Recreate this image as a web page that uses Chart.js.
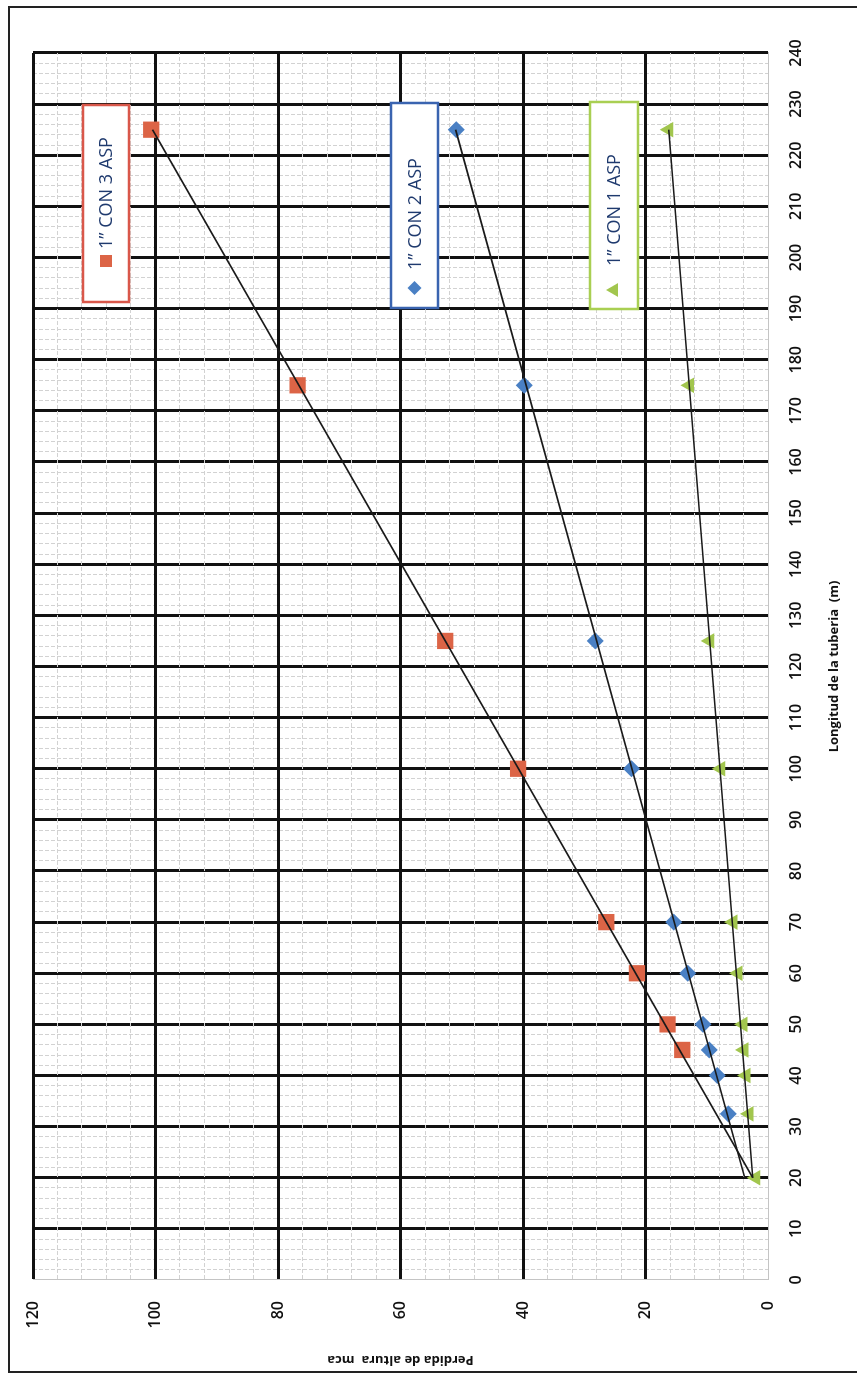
<!DOCTYPE html>
<html lang="es">
<head>
  <meta charset="UTF-8" />
  <title>Perdida de altura vs longitud de la tuberia</title>
  <style>
    html, body { margin: 0; padding: 0; background: #fff; overflow: hidden; }
    #frame {
      position: absolute; left: 8px; top: 6px; width: 860px; height: 1367px;
      border: 2px solid #222; border-right: none; box-sizing: border-box;
    }
    /* the chart is drawn lying down and turned a quarter to the left */
    #turn {
      position: absolute; left: 0; top: 0; width: 1376px; height: 857px;
      transform-origin: 0 0; transform: translateY(1376px) rotate(-90deg);
    }
  </style>
</head>
<body>
  <div id="frame"></div>
  <div id="turn"><canvas id="lossChart" width="1376" height="857"></canvas></div>

  <script src="https://cdn.jsdelivr.net/npm/chart.js"></script>
  <script>
    // longitud (m) / perdida (mca)
    const lenRed = [45, 50, 60, 70, 100, 125, 175, 225];
    const lossRed = [14.0, 16.4, 21.4, 26.4, 40.8, 52.7, 76.8, 100.7];
    const lenBlue = [32.5, 40, 45, 50, 60, 70, 100, 125, 175, 225];
    const lossBlue = [6.5, 8.3, 9.6, 10.6, 13.1, 15.4, 22.3, 28.2, 39.8, 50.9];
    const lenGreen = [20, 32.5, 40, 45, 50, 60, 70, 100, 125, 175, 225];
    const lossGreen = [2.0, 3.1, 3.6, 3.9, 4.1, 4.9, 5.7, 7.7, 9.5, 12.8, 16.2];

    // trend lines (end points)
    const trendLen = [20, 225];
    const trendRed = [2.5, 100.5];
    const trendBlue = [3.8, 51.0];
    const trendGreen = [2.5, 16.2];

    const seriesNames = ['1\u201D CON 3 ASP', '1\u201D CON 2 ASP', '1\u201D CON 1 ASP'];
    const lenTicks = 10;   // labelled every 10 m
    const lossTicks = 20;  // labelled every 20 mca

    function toPoints(xs, ys) {
      return xs.map((x, i) => ({ x: x, y: ys[i] }));
    }

    function gridStyle(step) {
      const val = c => (c.tick ? Math.round(c.tick.value) : 0);
      const major = c => { const v = val(c); return v !== 0 && v % step === 0; };
      return {
        grid: {
          drawTicks: false,
          color: c => (major(c) ? '#111' : '#d2d2d2'),
          lineWidth: c => (major(c) ? 3 : 1)
        },
        border: {
          color: '#c4c4c4',
          width: 1,
          dash: c => (c.tick && major(c) ? [] : [4, 2])
        }
      };
    }

    const legendBoxes = {
      id: 'legendBoxes',
      afterDraw(chart, args, opts) {
        const ctx = chart.ctx;
        opts.items.forEach(it => {
          const ds = chart.data.datasets[it.dataset];
          const cy = it.y + it.h / 2;
          ctx.save();
          ctx.fillStyle = '#fff';
          ctx.fillRect(it.x, it.y, it.w, it.h);
          ctx.lineWidth = 2.5;
          ctx.strokeStyle = it.border;
          ctx.strokeRect(it.x, it.y, it.w, it.h);
          ctx.fillStyle = ds.backgroundColor;
          Chart.helpers.drawPoint(ctx, { pointStyle: ds.pointStyle, radius: it.r, borderWidth: 0, rotation: 0 }, it.mx, cy);
          ctx.fillStyle = '#1f3a6e';
          ctx.font = '500 18px "Open Sans"';
          ctx.textBaseline = 'middle';
          ctx.fillText(ds.label, it.tx, cy + 1);
          ctx.restore();
        });
      }
    };

    const lenGrid = gridStyle(lenTicks);
    const lossGrid = gridStyle(lossTicks);
    const tickFont = { family: 'Open Sans', size: 16, weight: '600' };
    const titleFont = { family: 'Open Sans', size: 13, weight: 'bold' };

    new Chart(document.getElementById('lossChart'), {
      type: 'scatter',
      data: {
        datasets: [
          { label: seriesNames[0], data: toPoints(lenRed, lossRed), pointStyle: 'rect', pointRadius: 11.5, pointHoverRadius: 11.5, backgroundColor: '#dc6446', borderWidth: 0, order: 1 },
          { label: seriesNames[1], data: toPoints(lenBlue, lossBlue), pointStyle: 'rectRot', pointRadius: 8.5, pointHoverRadius: 8.5, backgroundColor: '#4a80c4', borderWidth: 0, order: 1 },
          { label: seriesNames[2], data: toPoints(lenGreen, lossGreen), pointStyle: 'triangle', pointRadius: 9, pointHoverRadius: 9, backgroundColor: '#a2c64e', borderWidth: 0, order: 1 },
          { label: 'trend 3', data: toPoints(trendLen, trendRed), showLine: true, pointRadius: 0, borderColor: '#1a1a1a', borderWidth: 1.6, order: 0 },
          { label: 'trend 2', data: toPoints(trendLen, trendBlue), showLine: true, pointRadius: 0, borderColor: '#1a1a1a', borderWidth: 1.6, order: 0 },
          { label: 'trend 1', data: toPoints(trendLen, trendGreen), showLine: true, pointRadius: 0, borderColor: '#1a1a1a', borderWidth: 1.6, order: 0 }
        ]
      },
      options: {
        responsive: false,
        animation: false,
        layout: { padding: { top: 33, right: 53, left: 0, bottom: 0 } },
        plugins: {
          legend: { display: false },
          tooltip: { enabled: false },
          legendBoxes: {
            items: [
              { dataset: 0, x: 1074, y: 83, w: 197, h: 46, mx: 1115, tx: 1127, r: 8.5, border: '#d9574a' },
              { dataset: 1, x: 1068, y: 391, w: 205, h: 47, mx: 1088, tx: 1106, r: 7, border: '#3a64b0' },
              { dataset: 2, x: 1067, y: 590, w: 207, h: 48, mx: 1086, tx: 1110, r: 8, border: '#a9cf52' }
            ]
          }
        },
        scales: {
          x: {
            type: 'linear',
            position: 'bottom',
            min: 0,
            max: 240,
            afterFit: s => { s.height = 89; },
            ticks: {
              stepSize: 2,
              autoSkip: false,
              maxRotation: 0,
              padding: 19,
              color: '#111',
              font: tickFont,
              callback: v => (Math.round(v) % lenTicks === 0 ? Math.round(v) : '')
            },
            grid: lenGrid.grid,
            border: lenGrid.border,
            title: { display: true, text: 'Longitud de la tuberia  (m)', color: '#111', font: titleFont, padding: { top: 15, bottom: 15 } }
          },
          y: {
            type: 'linear',
            position: 'left',
            min: 0,
            max: 120,
            afterFit: s => { s.width = 96; },
            ticks: {
              stepSize: 4,
              autoSkip: false,
              padding: 21,
              color: '#111',
              font: tickFont,
              callback: v => (Math.round(v) % lossTicks === 0 ? Math.round(v) : '')
            },
            grid: lossGrid.grid,
            border: lossGrid.border,
            title: { display: true, text: 'Perdida de altura  mca', color: '#111', font: titleFont, padding: { top: 8, bottom: 0 } }
          }
        }
      },
      plugins: [legendBoxes]
    });
  </script>
</body>
</html>
